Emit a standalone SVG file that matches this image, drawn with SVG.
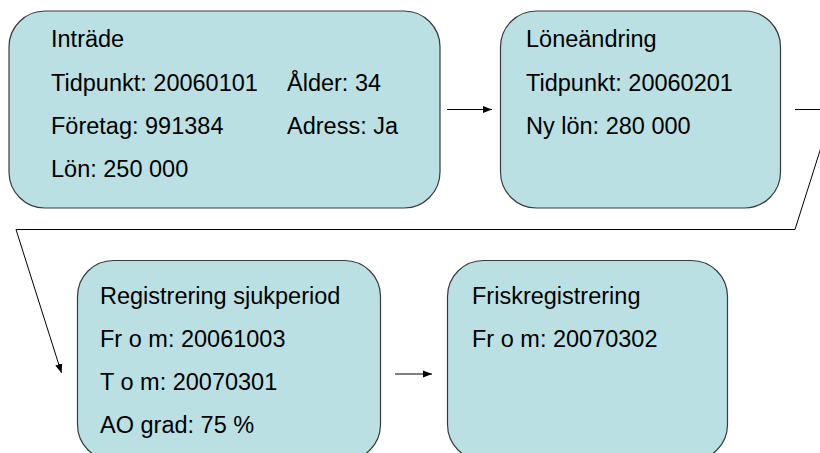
<svg xmlns="http://www.w3.org/2000/svg" width="820" height="453" viewBox="0 0 820 453">
<defs>
<style>
.box{fill:#BBE0E3;stroke:#3a3a3a;stroke-width:1.2}
.t{font-family:"Liberation Sans",Arial,sans-serif;font-size:23.5px;fill:#000}
.c{fill:none;stroke:#000;stroke-width:1}
</style>
<marker id="ah" viewBox="0 0 10 10" refX="10" refY="5" markerWidth="9" markerHeight="9" markerUnits="userSpaceOnUse" orient="auto">
<path d="M0,1 L10,5 L0,9 z" fill="#000"/>
</marker>
</defs>
<rect width="820" height="453" fill="#fff"/>
<g id="connectors">
<path class="c" d="M447,109.5 H492" marker-end="url(#ah)"/>
<path class="c" d="M795,109.5 H833 L795,229.5 H16 L61.5,373" marker-end="url(#ah)"/>
<path class="c" d="M395,374 H432" marker-end="url(#ah)"/>
</g>
<g id="intrade">
<rect class="box" x="9" y="11" width="431" height="197" rx="36"/>
<text class="t" x="51" y="47">Inträde</text>
<text class="t" x="51" y="91">Tidpunkt: 20060101</text>
<text class="t" x="287" y="91">Ålder: 34</text>
<text class="t" x="51" y="134">Företag: 991384</text>
<text class="t" x="287" y="134">Adress: Ja</text>
<text class="t" x="51" y="177">Lön: 250 000</text>
</g>
<g id="loneandring">
<rect class="box" x="500.5" y="11" width="280" height="197" rx="36"/>
<text class="t" x="526" y="47">Löneändring</text>
<text class="t" x="526" y="91">Tidpunkt: 20060201</text>
<text class="t" x="526" y="134">Ny lön: 280 000</text>
</g>
<g id="sjukperiod">
<rect class="box" x="77.5" y="260.5" width="303" height="200" rx="36"/>
<text class="t" x="100" y="304">Registrering sjukperiod</text>
<text class="t" x="100" y="347">Fr o m: 20061003</text>
<text class="t" x="100" y="390">T o m: 20070301</text>
<text class="t" x="100" y="433">AO grad: 75 %</text>
</g>
<g id="friskregistrering">
<rect class="box" x="447.5" y="260.5" width="280" height="200" rx="36"/>
<text class="t" x="472" y="304">Friskregistrering</text>
<text class="t" x="472" y="347">Fr o m: 20070302</text>
</g>
</svg>
